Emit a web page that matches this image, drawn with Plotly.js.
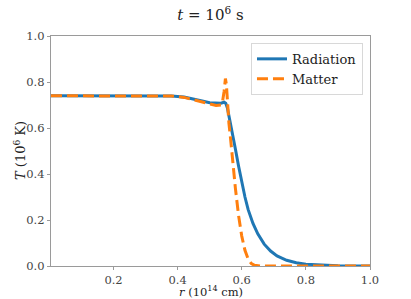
<!DOCTYPE html>
<html>
<head>
<meta charset="utf-8">
<script src="https://cdn.plot.ly/plotly-3.0.1.min.js"></script>
<style>html,body{margin:0;padding:0;background:#fff;}#chart{width:411px;height:299px;}</style>
</head>
<body>
<div id="chart"></div>
<script>
const radR = [0.005,0.30,0.38,0.42,0.45,0.48,0.50,0.52,0.535,0.545,0.550,0.555,0.560,0.570,0.580,0.590,0.600,0.610,0.620,0.635,0.650,0.670,0.690,0.710,0.740,0.770,0.800,0.850,0.900,1.0];
const radT = [0.740,0.740,0.739,0.735,0.727,0.716,0.710,0.707,0.708,0.712,0.708,0.688,0.655,0.585,0.510,0.435,0.365,0.300,0.245,0.185,0.140,0.095,0.065,0.044,0.025,0.014,0.008,0.003,0.001,0.0];
const matR = [0.005,0.30,0.38,0.42,0.45,0.48,0.50,0.52,0.535,0.540,0.545,0.549,0.552,0.556,0.560,0.565,0.570,0.575,0.580,0.590,0.600,0.610,0.620,0.630,0.640,0.660,1.0];
const matT = [0.740,0.740,0.739,0.733,0.722,0.710,0.703,0.698,0.700,0.715,0.760,0.815,0.790,0.700,0.620,0.555,0.480,0.410,0.340,0.220,0.130,0.068,0.030,0.010,0.003,0.000,0.0];
const xTicks = [0.2,0.4,0.6,0.8,1.0];
const xTickText = ['0.2','0.4','0.6','0.8','1.0'];
const yTicks = [0.0,0.2,0.4,0.6,0.8,1.0];
const yTickText = ['0.0','0.2','0.4','0.6','0.8','1.0'];
const xTitle = '<i>r</i> (10<sup>14</sup> cm)';
const yTitle = '<i>T</i> (10<sup>6</sup> K)';
const chartTitle = '<i>t</i> = 10<sup>6</sup> s';

const font = 'DejaVu Serif';
const traces = [
  {x: radR, y: radT, name: 'Radiation', mode: 'lines', line: {color: '#1f77b4', width: 3}},
  {x: matR, y: matT, name: 'Matter', mode: 'lines', line: {color: '#ff7f0e', width: 3, dash: '11px,5px'}}
];
const axisCommon = {
  showgrid: false, zeroline: false, showline: true, mirror: true,
  linecolor: '#9a9a9a', linewidth: 1.2, ticks: 'outside', ticklen: 3,
  tickcolor: '#9a9a9a', tickfont: {family: font, size: 11.5, color: '#444'}
};
const layout = {
  width: 411, height: 299,
  margin: {l: 51, r: 41, t: 36, b: 33},
  paper_bgcolor: '#fff', plot_bgcolor: '#fff',
  font: {family: font, color: '#333', size: 12},
  title: {text: chartTitle, font: {family: font, size: 15, color: '#222'}, x: 0.512, xanchor: 'center', y: 0.95, yanchor: 'middle'},
  xaxis: Object.assign({}, axisCommon, {range: [0.005, 1.0], tickvals: xTicks, ticktext: xTickText}),
  yaxis: Object.assign({}, axisCommon, {range: [0, 1.0], tickvals: yTicks, ticktext: yTickText}),
  annotations: [
    {text: xTitle, xref: 'paper', yref: 'paper', x: 0.5, y: 0, xanchor: 'center', yanchor: 'middle', yshift: -25.5, showarrow: false, font: {family: font, size: 11.5, color: '#222'}},
    {text: yTitle, xref: 'paper', yref: 'paper', x: 0, y: 0.5, xanchor: 'center', yanchor: 'middle', xshift: -31, textangle: -90, showarrow: false, font: {family: font, size: 13, color: '#222'}}
  ],
  showlegend: true,
  legend: {x: 0.978, xanchor: 'right', y: 0.97, yanchor: 'top', bgcolor: 'rgba(255,255,255,0.9)',
    bordercolor: '#d8d8d8', borderwidth: 1, font: {family: font, size: 13, color: '#222'}, tracegroupgap: 0}
};
Plotly.newPlot('chart', traces, layout, {displayModeBar: false, staticPlot: true});
</script>
</body>
</html>
